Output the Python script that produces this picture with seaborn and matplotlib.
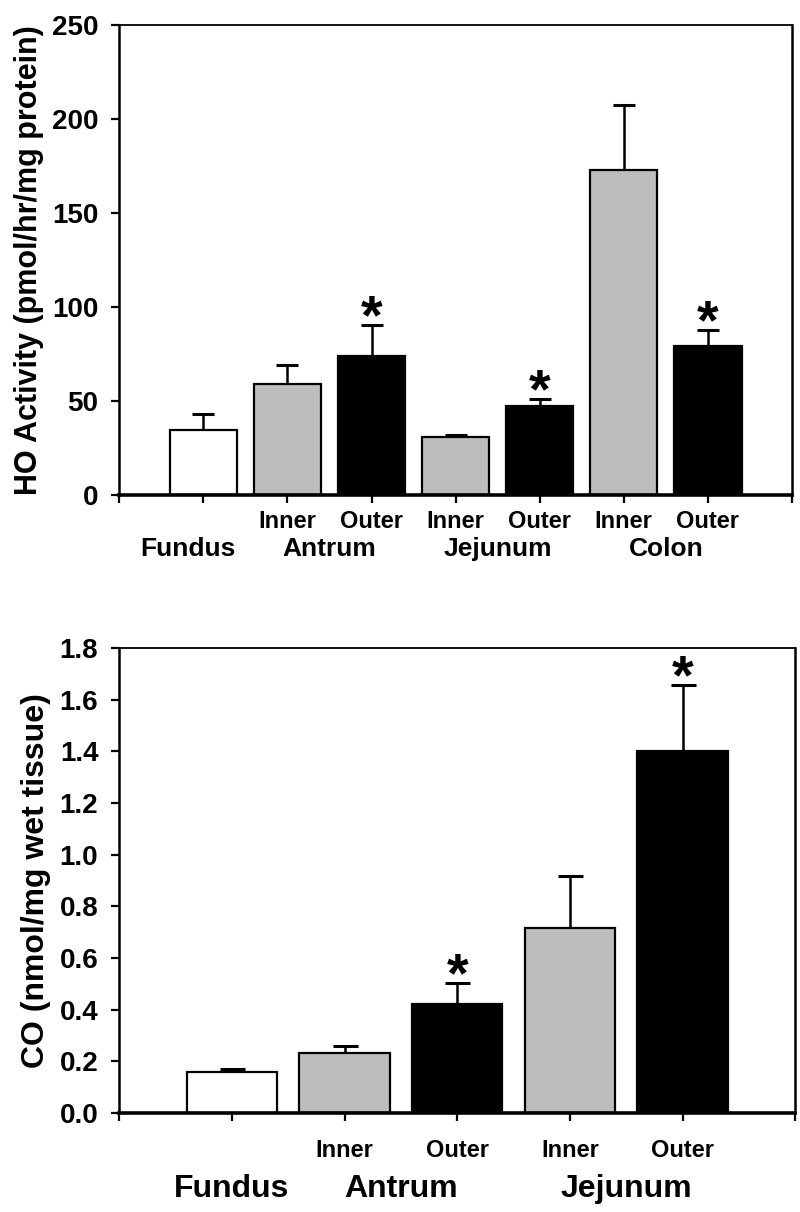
import numpy as np
import seaborn as sns
from matplotlib import pyplot as plt

# 상단: HO activity
ho_pos = [1, 2, 3, 4, 5, 6, 7]
ho_kind = ['Fundus', 'Inner', 'Outer', 'Inner', 'Outer', 'Inner', 'Outer']
ho_mean = [34.7, 59.2, 74.0, 31.0, 47.1, 173.0, 79.2]
ho_upper = [42.9, 69.1, 90.6, 32.0, 51.0, 207.6, 87.8]
ho_star = [False, False, True, False, True, False, True]
ho_groups = ['Fundus', 'Antrum', 'Jejunum', 'Colon']
ho_group_x = [0.82, 2.5, 4.5, 6.5]
ho_yticks = [0, 50, 100, 150, 200, 250]
ho_ylabels = ['0', '50', '100', '150', '200', '250']

# 하단: CO content
co_pos = [1, 2, 3, 4, 5]
co_kind = ['Fundus', 'Inner', 'Outer', 'Inner', 'Outer']
co_mean = [0.158, 0.231, 0.42, 0.717, 1.40]
co_upper = [0.17, 0.261, 0.502, 0.918, 1.656]
co_star = [False, False, True, False, True]
co_groups = ['Fundus', 'Antrum', 'Jejunum']
co_group_x = [1.0, 2.5, 4.5]
co_yticks = [0.0, 0.2, 0.4, 0.6, 0.8, 1.0, 1.2, 1.4, 1.6, 1.8]
co_ylabels = ['0.0', '0.2', '0.4', '0.6', '0.8', '1.0', '1.2', '1.4', '1.6', '1.8']

palette = {'Fundus': 'white', 'Inner': '#bdbdbd', 'Outer': 'black'}

sns.set_style('ticks')
plt.rcParams['font.family'] = ['Liberation Sans', 'DejaVu Sans']
plt.rcParams['font.weight'] = 'bold'
for key in ['text.color', 'axes.labelcolor', 'xtick.color', 'ytick.color', 'axes.edgecolor']:
    plt.rcParams[key] = 'black'


def draw(ax, pos, kind, mean, upper, star, groups, group_x, yticks, ylabels,
         ylim, ylabel, ylabel_size, sub_off, grp_off, grp_size, capsize):
    sns.barplot(x=pos, y=mean, hue=kind, palette=palette, native_scale=True,
                dodge=False, width=0.8, edgecolor='black', linewidth=1.6,
                errorbar=None, legend=False, ax=ax)
    err = np.array(upper) - np.array(mean)
    _, caps, _ = ax.errorbar(pos, mean, yerr=[np.zeros(len(pos)), err], fmt='none',
                             ecolor='black', elinewidth=1.8, capsize=capsize,
                             capthick=2.2)
    caps[0].set_visible(False)  # 아래쪽 cap 숨김
    for p, u, s in zip(pos, upper, star):
        if s:
            ax.annotate('*', (p, u), xytext=(0, -6), textcoords='offset points',
                        ha='center', va='baseline', fontsize=40, fontweight='bold')

    n = len(pos)
    ax.set_xlim(0, n + 1)
    ax.set_ylim(*ylim)
    ax.set_xticks(range(n + 2))
    ax.set_xticklabels([''] * (n + 2))
    ax.set_yticks(yticks)
    ax.set_yticklabels(ylabels, fontsize=20, fontweight='bold')
    ax.tick_params(axis='y', direction='out', length=6, width=1.6, pad=9)
    ax.tick_params(axis='x', direction='out', length=6, width=1.6)

    # Inner / Outer 라벨
    for p, k in zip(pos, kind):
        if k != 'Fundus':
            ax.annotate(k, (p, 0), xycoords=('data', 'axes fraction'),
                        xytext=(0, sub_off), textcoords='offset points',
                        ha='center', va='center', fontsize=17, fontweight='bold')
    for g, gx in zip(groups, group_x):
        ax.annotate(g, (gx, 0), xycoords=('data', 'axes fraction'),
                    xytext=(0, grp_off), textcoords='offset points',
                    ha='center', va='center', fontsize=grp_size, fontweight='bold')

    ax.set_xlabel('')
    ax.set_ylabel(ylabel, fontsize=ylabel_size, fontweight='bold', labelpad=6)
    for side in ['left', 'right']:
        ax.spines[side].set_linewidth(1.8)
    ax.spines['bottom'].set_linewidth(2.6)
    ax.spines['top'].set_linewidth(1.3)


fig = plt.figure(figsize=(8, 12.12), dpi=100)
ax1 = fig.add_axes([0.149, 0.5916, 0.841, 0.3878])
ax2 = fig.add_axes([0.149, 0.0817, 0.845, 0.3837])

draw(ax1, ho_pos, ho_kind, ho_mean, ho_upper, ho_star, ho_groups, ho_group_x,
     ho_yticks, ho_ylabels, (0, 250), 'HO Activity (pmol/hr/mg protein)', 22,
     -19, -39, 19, 8)
draw(ax2, co_pos, co_kind, co_mean, co_upper, co_star, co_groups, co_group_x,
     co_yticks, co_ylabels, (0, 1.8), 'CO (nmol/mg wet tissue)', 23,
     -27, -55, 23, 9)

fig.savefig('out.png', dpi=100)
